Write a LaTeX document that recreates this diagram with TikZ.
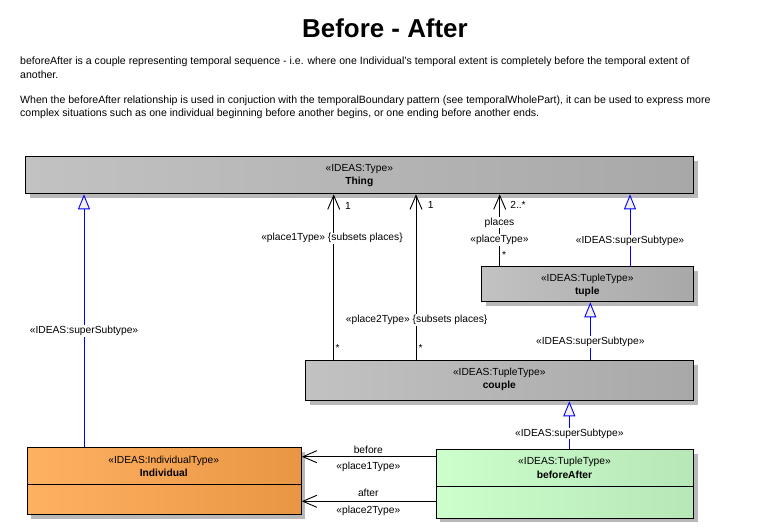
\documentclass[tikz,border=0pt]{standalone}
\usepackage{fontspec}
\setmainfont{Liberation Sans}
\usetikzlibrary{arrows.meta,shadows}
\definecolor{umlblue}{HTML}{0000FF}
\definecolor{trifill}{HTML}{F4F0E4}
\definecolor{grayL}{HTML}{C2C2C2}
\definecolor{grayR}{HTML}{A8A8A8}
\definecolor{orangeL}{HTML}{FFB162}
\definecolor{orangeR}{HTML}{E99643}
\definecolor{greenL}{HTML}{CCFFCC}
\definecolor{greenR}{HTML}{B7E6B7}
\newcommand{\smallfnt}{\fontsize{10.3}{12}\selectfont}
\tikzset{
  umlbox/.style={draw=black, line width=1bp, inner sep=0pt, anchor=north west,
    drop shadow={shadow xshift=4bp, shadow yshift=-4bp, fill=black!28, opacity=1}},
  graybox/.style={umlbox, left color=grayL, right color=grayR},
  orangebox/.style={umlbox, left color=orangeL, right color=orangeR},
  greenbox/.style={umlbox, left color=greenL, right color=greenR},
  boxtext/.style={font=\smallfnt, inner sep=0pt, align=center},
  boxname/.style={font=\smallfnt\bfseries, inner sep=0pt, align=center},
  lbl/.style={font=\smallfnt, inner sep=1pt, fill=white},
  plainlbl/.style={font=\smallfnt, inner sep=0pt},
  assoc/.style={draw=black, line width=0.9bp, -{Straight Barb[length=14bp,width=12bp,line width=0.9bp]}},
  gen/.style={draw=umlblue, line width=0.9bp, -{Triangle[length=15bp,width=12bp,fill=trifill,line width=0.9bp]}},
  bodytext/.style={font=\fontsize{10.6}{12}\selectfont, inner sep=0pt, anchor=west}
}
\begin{document}
\begin{tikzpicture}[x=1bp,y=-1bp]
\useasboundingbox[fill=white] (0,0) rectangle (770,529);
% title and description
\node[font=\fontsize{26}{30}\bfseries, inner sep=0pt] (title) at (385,28) {Before - After};
\node[bodytext] (t1) at (20,62) {beforeAfter is a couple representing temporal sequence - i.e. where one Individual's temporal extent is completely before the temporal extent of};
\node[bodytext] (t2) at (20,75) {another.};
\node[bodytext] (t3) at (20,101) {When the beforeAfter relationship is used in conjuction with the temporalBoundary pattern (see temporalWholePart), it can be used to express more};
\node[bodytext] (t4) at (20,114) {complex situations such as one individual beginning before another begins, or one ending before another ends.};

% boxes
\node[graybox, minimum width=668bp, minimum height=37bp] (thing) at (25.3,156.3) {};
\node[graybox, minimum width=212bp, minimum height=35bp] (tuple) at (481.3,266.3) {};
\node[graybox, minimum width=388bp, minimum height=40bp] (couple) at (305.3,360.3) {};
\node[orangebox, minimum width=274bp, minimum height=67bp] (individual) at (26.7,447.3) {};
\node[greenbox, minimum width=257.6bp, minimum height=68.4bp] (beforeafter) at (435.7,449.3) {};
\draw[line width=1bp] (individual.west |- 0,484.3) -- (individual.east |- 0,484.3);
\draw[line width=1bp] (beforeafter.west |- 0,486.3) -- (beforeafter.east |- 0,486.3);

% box texts
\node[boxtext] (thingst) at (359.3,169.3) {«IDEAS:Type»};
\node[boxname] (thingnm) at (359.3,182.3) {Thing};
\node[boxtext] (tuplest) at (587.3,279) {«IDEAS:TupleType»};
\node[boxname] (tuplenm) at (587.3,291.7) {tuple};
\node[boxtext] (couplest) at (499.3,372.7) {«IDEAS:TupleType»};
\node[boxname] (couplenm) at (499.3,386) {couple};
\node[boxtext] (indst) at (163.7,460.7) {«IDEAS:IndividualType»};
\node[boxname] (indnm) at (163.7,472.7) {Individual};
\node[boxtext] (bast) at (564.5,462.3) {«IDEAS:TupleType»};
\node[boxname] (banm) at (564.5,475.3) {beforeAfter};

% connector end points
\coordinate (g1) at (84,447.3);
\coordinate (p1) at (333.7,360.3);
\coordinate (p2) at (416,360.3);
\coordinate (pl) at (499.7,266.3);
\coordinate (g2) at (630,266.3);
\coordinate (g3) at (590.3,360.3);
\coordinate (g4) at (569.3,449.3);
\coordinate (b1) at (435.7,456.7);
\coordinate (a1) at (435.7,501.3);

% generalizations
\draw[gen] (g1) -- (g1 |- thing.south) node[lbl, pos=0.46] (g1l) {«IDEAS:superSubtype»};
\draw[gen] (g2) -- (g2 |- thing.south) node[lbl, pos=0.36] (g2l) {«IDEAS:superSubtype»};
\draw[gen] (g3) -- (g3 |- tuple.south) node[lbl, pos=0.32] (g3l) {«IDEAS:superSubtype»};
\draw[gen] (g4) -- (g4 |- couple.south) node[lbl, pos=0.33] (g4l) {«IDEAS:superSubtype»};

% associations
\draw[assoc] (p1) -- (p1 |- thing.south);
\draw[assoc] (p2) -- (p2 |- thing.south);
\draw[assoc] (pl) -- (pl |- thing.south);
\draw[assoc] (b1) -- (b1 -| individual.east);
\draw[assoc] (a1) -- (a1 -| individual.east);

% association labels
\node[lbl] (p1l) at (332,238.3) {«place1Type» \{subsets places\}};
\node[lbl] (p2l) at (416.7,320) {«place2Type» \{subsets places\}};
\node[plainlbl] (p1m) at (348,205.7) {1};
\node[plainlbl] (p2m) at (430.7,205.3) {1};
\node[plainlbl] (p1s) at (337.7,347.7) {*};
\node[plainlbl] (p2s) at (420.7,347.7) {*};
\node[plainlbl] (plm) at (518,205) {2..*};
\node[lbl] (pln) at (499.5,222.7) {places};
\node[lbl] (plt) at (499.5,240) {«placeType»};
\node[plainlbl] (pls) at (504,254.5) {*};
\node[plainlbl] (bfn) at (368.3,450) {before};
\node[plainlbl] (bft) at (368.3,467.3) {«place1Type»};
\node[plainlbl] (afn) at (368.3,493.3) {after};
\node[plainlbl] (aft) at (368.3,511) {«place2Type»};
\end{tikzpicture}
\end{document}
